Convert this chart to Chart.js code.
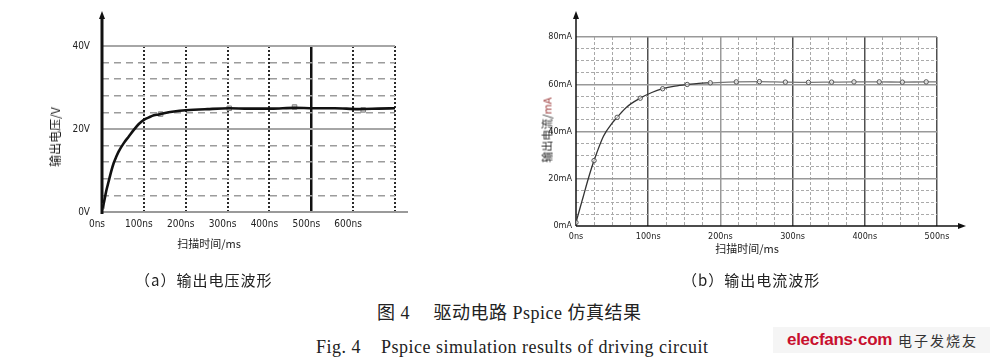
<!DOCTYPE html>
<html>
<head>
<meta charset="utf-8">
<script src="https://cdn.jsdelivr.net/npm/chart.js@4.4.0/dist/chart.umd.min.js"></script>
<style>
  body{margin:0;width:990px;height:360px;background:#fff;position:relative;overflow:hidden;color:#222;font-family:"Noto Sans CJK SC",sans-serif}
  canvas{position:absolute;top:0}
  .t{position:absolute;white-space:pre;line-height:1}
  .rot{transform:translate(-50%,-50%) rotate(-90deg)}
  .ctr{transform:translate(-50%,-50%)}
</style>
</head>
<body>
<canvas id="voltChart" width="440" height="260" style="left:0"></canvas>
<canvas id="currChart" width="550" height="260" style="left:440px"></canvas>

<div class="t rot" style="left:55px;top:137px;font-size:12px">输出电压/V</div>
<div class="t ctr" style="left:209px;top:243px;font-size:11px">扫描时间/ms</div>
<div class="t rot" style="left:547px;top:130px;font-size:11px">输出电流/<span style="color:#a04040">mA</span></div>
<div class="t ctr" style="left:747px;top:248px;font-size:11px">扫描时间/ms</div>

<div class="t" style="left:135px;top:272px;font-size:15px;letter-spacing:1px">（a）输出电压波形</div>
<div class="t" style="left:682px;top:272px;font-size:15px;letter-spacing:1px">（b）输出电流波形</div>
<div class="t" style="left:377px;top:304px;font-size:18px;letter-spacing:0.5px;font-family:'Liberation Serif','Noto Sans CJK SC',serif">图 4　 驱动电路 Pspice 仿真结果</div>
<div class="t" style="left:316px;top:338px;font-size:18px;letter-spacing:0.5px;font-family:'Liberation Serif',serif">Fig. 4    Pspice simulation results of driving circuit</div>

<div style="position:absolute;left:773px;top:327px;width:217px;height:26px;background:#f5f5f5"></div>
<div class="t" style="left:787px;top:331px;font-size:17px;font-weight:bold;color:#c8102e;font-family:'Liberation Sans',sans-serif;letter-spacing:-0.3px">elecfans·com</div>
<div class="t" style="left:898px;top:333px;font-size:14px;color:#333;letter-spacing:2px">电子发烧友</div>

<script>
// (a) output voltage, time in ns
const voltTimeNs = [0, 5, 10, 16, 22, 28, 34, 40, 52, 64, 76, 88, 100, 112, 124, 136, 148, 172, 200, 252, 304, 350, 404, 460, 505, 556, 612, 660, 700];
const voltValues = [0.5, 2.5, 5.0, 7.4, 9.8, 11.8, 13.3, 14.6, 16.6, 18.2, 19.8, 21.2, 22.2, 22.8, 23.3, 23.5, 23.8, 24.2, 24.5, 24.8, 25.0, 24.9, 24.9, 25.1, 25.0, 25.0, 24.8, 24.9, 25.0];
const voltMarkTimeNs = [0, 140, 304, 460, 624];
const voltMarkValues = [1.4, 23.6, 25.0, 25.3, 24.6];
const voltXLabels = ['0ns', '100ns', '200ns', '300ns', '400ns', '500ns', '600ns', ''];
const voltYLabels = ['0V', '20V', '40V'];

// (b) output current, time in ns
const currTimeNs = [0, 5, 10, 17, 25, 38, 50, 57, 70, 89, 105, 120, 137, 154, 170, 186, 222, 254, 290, 322, 354, 385, 420, 452, 485, 500];
const currValues = [1.5, 7.0, 12.4, 20.0, 27.7, 38.0, 43.5, 46.0, 50.3, 54.1, 56.5, 58.1, 59.2, 59.9, 60.4, 60.6, 61.0, 61.1, 60.9, 60.8, 60.9, 61.0, 61.0, 60.9, 61.0, 61.0];
const currMarkTimeNs = [0, 25, 57, 89, 120, 154, 186, 222, 254, 290, 322, 354, 385, 420, 452, 485];
const currXLabels = ['0ns', '100ns', '200ns', '300ns', '400ns', '500ns'];
const currYLabels = ['0mA', '20mA', '40mA', '60mA', '80mA'];

// axis lines running past the plot, with arrow heads
const axisArrows = {
  id: 'axisArrows',
  beforeDatasetsDraw(chart, args, o) {
    const {ctx, scales: {x, y}} = chart;
    const x0 = x.getPixelForValue(0), y0 = y.getPixelForValue(0);
    ctx.save();
    ctx.strokeStyle = o.xColor; ctx.lineWidth = o.xWidth;
    ctx.beginPath(); ctx.moveTo(x0, y0); ctx.lineTo(o.xEnd, y0); ctx.stroke();
    if (o.xArrow) {
      ctx.fillStyle = o.xColor;
      ctx.beginPath(); ctx.moveTo(o.xEnd + 6, y0); ctx.lineTo(o.xEnd - 2, y0 - 3); ctx.lineTo(o.xEnd - 2, y0 + 3); ctx.fill();
    }
    ctx.strokeStyle = o.yColor; ctx.lineWidth = o.yWidth;
    ctx.beginPath(); ctx.moveTo(x0, y0 + o.yBelow); ctx.lineTo(x0, o.yTop + 4); ctx.stroke();
    ctx.fillStyle = o.yColor;
    ctx.beginPath(); ctx.moveTo(x0, o.yTop - 2); ctx.lineTo(x0 - 3, o.yTop + 6); ctx.lineTo(x0 + 3, o.yTop + 6); ctx.fill();
    ctx.restore();
  }
};

const tv = c => (c.tick ? c.tick.value : null);

new Chart(document.getElementById('voltChart'), {
  type: 'line',
  data: {
    datasets: [
      {
        data: voltTimeNs.map((t, i) => ({x: t, y: voltValues[i]})),
        borderColor: '#111', borderWidth: 2.6, pointRadius: 0,
        cubicInterpolationMode: 'monotone'
      },
      {
        data: voltMarkTimeNs.map((t, i) => ({x: t, y: voltMarkValues[i]})),
        showLine: false, pointStyle: 'rect', pointRadius: 3.2,
        backgroundColor: 'rgba(190,190,190,0.8)', borderColor: '#888', borderWidth: 1
      }
    ]
  },
  options: {
    responsive: false, animation: false, devicePixelRatio: 1,
    layout: {padding: {top: 46, right: 45, left: 0, bottom: 0}},
    plugins: {
      legend: {display: false}, tooltip: {enabled: false},
      axisArrows: {xColor: '#9a9a9a', xWidth: 2, xEnd: 408, xArrow: false, yColor: '#111', yWidth: 3, yTop: 13, yBelow: 2}
    },
    scales: {
      x: {
        type: 'linear', min: 0, max: 700,
        afterFit: s => { s.height = 48; },
        ticks: {stepSize: 100, autoSkip: false, maxRotation: 0, padding: 6, labelOffset: -5,
          color: '#222', font: {family: '"Liberation Sans Narrow","DejaVu Sans Condensed",sans-serif', size: 10},
          callback: v => voltXLabels[v / 100]},
        grid: {
          drawTicks: false,
          color: c => tv(c) === 500 ? '#111' : '#2a2a2a',
          lineWidth: c => { const v = tv(c); return v === null || v === 0 ? 0 : v === 500 ? 2.5 : 2; }
        },
        border: {display: false, dash: c => (tv(c) !== null && tv(c) !== 500 ? [2, 2] : [])}
      },
      y: {
        type: 'linear', min: 0, max: 40,
        afterFit: s => { s.width = 102; },
        ticks: {stepSize: 4, autoSkip: false, padding: 12,
          color: '#222', font: {family: '"Liberation Sans Narrow","DejaVu Sans Condensed",sans-serif', size: 10},
          callback: v => (v % 20 === 0 ? voltYLabels[v / 20] : '')},
        grid: {
          drawTicks: false,
          color: c => (tv(c) % 20 === 0 ? '#a6a6a6' : '#9c9c9c'),
          lineWidth: c => { const v = tv(c); return v === null || v === 0 ? 0 : v % 20 === 0 ? 2 : 1.5; }
        },
        border: {display: false, dash: c => (tv(c) !== null && tv(c) % 20 !== 0 ? [7, 5] : [])}
      }
    }
  },
  plugins: [axisArrows]
});

new Chart(document.getElementById('currChart'), {
  type: 'line',
  data: {
    datasets: [{
      data: currTimeNs.map((t, i) => ({x: t, y: currValues[i]})),
      borderColor: '#333', borderWidth: 1.3,
      segment: {borderColor: c => (c.p0.parsed.x >= 186 ? '#777' : '#333')},
      cubicInterpolationMode: 'monotone',
      pointRadius: c => (currMarkTimeNs.includes(currTimeNs[c.dataIndex]) ? 2.2 : 0),
      pointBackgroundColor: 'rgba(255,255,255,0.6)', pointBorderColor: '#555', pointBorderWidth: 1
    }]
  },
  options: {
    responsive: false, animation: false, devicePixelRatio: 1,
    layout: {padding: {top: 37, right: 53, left: 0, bottom: 0}},
    plugins: {
      legend: {display: false}, tooltip: {enabled: false},
      axisArrows: {xColor: '#111', xWidth: 1.5, xEnd: 520, xArrow: true, yColor: '#111', yWidth: 1.5, yTop: 13, yBelow: 0}
    },
    scales: {
      x: {
        type: 'linear', min: 0, max: 500,
        afterFit: s => { s.height = 34; },
        ticks: {stepSize: 25, autoSkip: false, maxRotation: 0, padding: 5,
          color: '#222', font: {family: '"Liberation Sans Narrow","DejaVu Sans Condensed",sans-serif', size: 9},
          callback: v => (v % 100 === 0 ? currXLabels[v / 100] : '')},
        grid: {
          drawTicks: false,
          color: c => { const v = tv(c); return v % 100 === 0 ? (v === 200 ? '#9a9a9a' : '#505050') : '#a8a8a8'; },
          lineWidth: c => { const v = tv(c); return v === null || v === 0 ? 0 : v % 100 === 0 ? 1.5 : 1; }
        },
        border: {display: false, dash: c => (tv(c) !== null && tv(c) % 100 !== 0 ? [3, 2] : [])}
      },
      y: {
        type: 'linear', min: 0, max: 80,
        afterFit: s => { s.width = 136; },
        ticks: {stepSize: 5, autoSkip: false, padding: 4,
          color: '#222', font: {family: '"Liberation Sans Narrow","DejaVu Sans Condensed",sans-serif', size: 9},
          callback: v => (v % 20 === 0 ? currYLabels[v / 20] : '')},
        grid: {
          drawTicks: false,
          color: c => (tv(c) % 20 === 0 ? '#999' : '#aaa'),
          lineWidth: c => { const v = tv(c); return v === null || v === 0 ? 0 : v % 20 === 0 ? 1.5 : 1; }
        },
        border: {display: false, dash: c => (tv(c) !== null && tv(c) % 20 !== 0 ? [3, 2] : [])}
      }
    }
  },
  plugins: [axisArrows]
});
</script>
</body>
</html>
